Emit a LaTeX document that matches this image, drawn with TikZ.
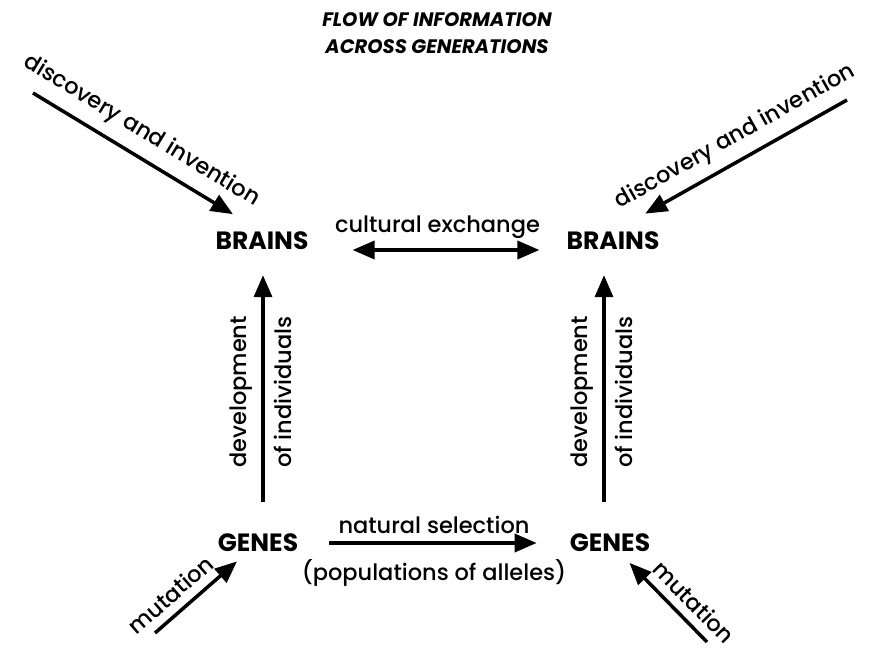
\documentclass[tikz,border=0pt]{standalone}
\usepackage{fontspec}
\setmainfont{Poppins}[UprightFont={* Medium}, BoldFont={* Bold}, BoldItalicFont={* Bold Italic}]
\usetikzlibrary{arrows.meta}

\tikzset{
  word/.style={font=\fontsize{22.5}{24}\selectfont},
  organ/.style={font=\bfseries\fontsize{25}{27}\selectfont, inner sep=0pt},
  flow/.style={line width=3.5pt, -{Triangle[length=22pt,width=18pt]}},
  swap/.style={line width=3.5pt, {Triangle[length=22pt,width=18pt]}-{Triangle[length=22pt,width=18pt]}},
}

\begin{document}
\begin{tikzpicture}[x=1pt,y=-1pt]
  \useasboundingbox (0,0) rectangle (879,652);

  % title
  \node[font=\bfseries\itshape\fontsize{19.5}{27}\selectfont, align=center] (title) at (437,33)
    {FLOW OF INFORMATION\\ACROSS GENERATIONS};

  % the four stores
  \node[organ] (bl) at (262,241) {BRAINS};
  \node[organ] (br) at (613,241) {BRAINS};
  \node[organ] (gl) at (258,543) {GENES};
  \node[organ] (gr) at (610,543) {GENES};

  % free ends
  \coordinate (dl) at (33,93);
  \coordinate (dr) at (847,100);
  \coordinate (ml) at (155,633);
  \coordinate (mr) at (707,642);

  % across
  \draw[swap, shorten <=44pt, shorten >=27pt] ([yshift=-9pt]bl.east) -- ([yshift=-9pt]br.west)
    node[midway, above=6pt, word] (ce) {cultural exchange};
  \draw[flow, shorten <=31pt, shorten >=33pt] (gl.east) -- (gr.west)
    node[midway, above=4pt, word] (ns) {natural selection}
    node[midway, below=11pt, word] (pa) {(populations of alleles)};

  % up
  \draw[flow, shorten <=32pt, shorten >=25pt] ([xshift=1pt]bl.south |- gl.north) -- ([xshift=1pt]bl.south)
    node[midway, sloped, above=6pt, word] (dvl) {development}
    node[midway, sloped, below=6pt, word] (oil) {of individuals};
  \draw[flow, shorten <=32pt, shorten >=25pt] ([xshift=-9pt]br.south |- gr.north) -- ([xshift=-9pt]br.south)
    node[midway, sloped, above=6pt, word] (dvr) {development}
    node[midway, sloped, below=6pt, word] (oir) {of individuals};

  % inputs
  \draw[flow, shorten >=34pt] (dl) -- (bl.north)
    node[pos=0.42, sloped, above=7pt, word] (dil) {discovery and invention};
  \draw[flow, shorten >=37pt] (dr) -- (br.north)
    node[pos=0.43, sloped, above=6pt, word] (dir) {discovery and invention};
  \draw[flow, shorten >=14pt] (ml) -- (gl)
    node[pos=0.3, sloped, above=5pt, word] (mul) {mutation};
  \draw[flow, shorten >=15pt] (mr) -- (gr)
    node[pos=0.3, sloped, above=5pt, word] (mur) {mutation};
\end{tikzpicture}
\end{document}
